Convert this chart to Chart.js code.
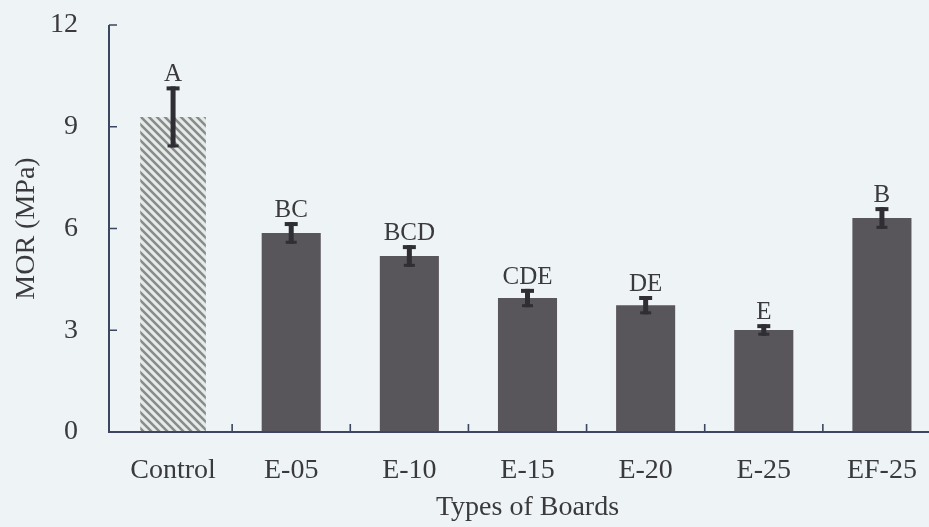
<!DOCTYPE html>
<html>
<head>
<meta charset="utf-8">
<script src="https://cdn.jsdelivr.net/npm/chart.js@4.4.1/dist/chart.umd.min.js"></script>
<style>
  html, body { margin: 0; padding: 0; background: #eef3f5; overflow: hidden; }
  #wrap { position: relative; width: 950px; height: 527px; }
</style>
</head>
<body>
<div id="wrap"><canvas id="chart"></canvas></div>
<script>
// Modulus of rupture by board type (mean and standard deviation, MPa)
const boardTypes = ['Control', 'E-05', 'E-10', 'E-15', 'E-20', 'E-25', 'EF-25'];
const morMean = [9.29, 5.87, 5.19, 3.95, 3.74, 3.01, 6.31];
const morSD = [0.90, 0.32, 0.32, 0.27, 0.27, 0.17, 0.32];
const groupLetters = ['A', 'BC', 'BCD', 'CDE', 'DE', 'E', 'B'];
const yTickValues = [0, 3, 6, 9, 12];

const SERIF = '"Liberation Serif", "Times New Roman", serif';
const TEXT = '#3a3a3c';
const AXIS = '#3d4660';
const AXIS_INSET = 5; // the value axis sits a little left of the first category

// Diagonal hatch used for the control board
function hatchPattern() {
  const n = 8;
  const p = document.createElement('canvas');
  p.width = n; p.height = n;
  const g = p.getContext('2d');
  g.fillStyle = '#e6eae8';
  g.fillRect(0, 0, n, n);
  g.strokeStyle = '#878b89';
  g.lineWidth = 2.5;
  g.beginPath();
  g.moveTo(-2, -2); g.lineTo(n + 2, n + 2);
  g.moveTo(-3, n - 3); g.lineTo(3, n + 3);
  g.moveTo(n - 3, -3); g.lineTo(n + 3, 3);
  g.stroke();
  return g.createPattern(p, 'repeat');
}

const controlValues = morMean.map((v, i) => (i === 0 ? v : null));
const treatedValues = morMean.map((v, i) => (i === 0 ? null : v));

// Axis lines with inward tick marks
const axisLines = {
  id: 'axisLines',
  afterDatasetsDraw(chart) {
    const { ctx, chartArea: a, scales: { x, y } } = chart;
    const ax = a.left - AXIS_INSET;
    ctx.save();
    ctx.strokeStyle = AXIS;
    ctx.lineWidth = 2;
    ctx.beginPath();
    ctx.moveTo(ax, a.top);
    ctx.lineTo(ax, a.bottom);
    ctx.lineTo(a.right + 20, a.bottom);
    ctx.stroke();
    ctx.lineWidth = 1.6;
    ctx.beginPath();
    yTickValues.slice(1).forEach(v => {
      const py = y.getPixelForValue(v);
      ctx.moveTo(ax, py);
      ctx.lineTo(ax + 8, py);
    });
    for (let i = 1; i < boardTypes.length; i++) {
      const px = (x.getPixelForValue(i - 1) + x.getPixelForValue(i)) / 2;
      ctx.moveTo(px, a.bottom);
      ctx.lineTo(px, a.bottom - 8);
    }
    ctx.stroke();
    ctx.restore();
  }
};

// Standard deviation bars and significance letters
const errorBars = {
  id: 'errorBars',
  afterDatasetsDraw(chart) {
    const { ctx, scales: { x, y } } = chart;
    ctx.save();
    ctx.fillStyle = '#2f2e34';
    morMean.forEach((m, i) => {
      const cx = x.getPixelForValue(i);
      const top = y.getPixelForValue(m + morSD[i]);
      const bot = y.getPixelForValue(m - morSD[i]);
      ctx.fillRect(cx - 2.5, top, 5, bot - top);
      ctx.fillRect(cx - 6.5, top, 13, 4);
      ctx.fillRect(cx - 5.5, bot - 3, 11, 3);
    });
    ctx.font = '25px ' + SERIF;
    ctx.textAlign = 'center';
    ctx.textBaseline = 'alphabetic';
    ctx.fillStyle = TEXT;
    groupLetters.forEach((t, i) => {
      const cx = x.getPixelForValue(i);
      const top = y.getPixelForValue(morMean[i] + morSD[i]);
      ctx.fillText(t, cx, top - 5);
    });
    ctx.restore();
  }
};

new Chart(document.getElementById('chart'), {
  type: 'bar',
  data: {
    labels: boardTypes,
    datasets: [
      {
        label: 'Control',
        data: controlValues,
        backgroundColor: hatchPattern(),
        barPercentage: 0.555,
        categoryPercentage: 1,
        grouped: false
      },
      {
        label: 'Treated',
        data: treatedValues,
        backgroundColor: '#58555b',
        barPercentage: 0.5,
        categoryPercentage: 1,
        grouped: false
      }
    ]
  },
  options: {
    responsive: true,
    maintainAspectRatio: false,
    animation: false,
    layout: { padding: { top: 25, right: 9, left: 0, bottom: 0 } },
    plugins: { legend: { display: false }, tooltip: { enabled: false } },
    scales: {
      x: {
        grid: { display: false, drawTicks: false },
        border: { display: false },
        ticks: {
          font: { family: SERIF, size: 28 },
          color: TEXT,
          padding: 22,
          maxRotation: 0,
          autoSkip: false
        },
        title: {
          display: true,
          text: 'Types of Boards',
          font: { family: SERIF, size: 28 },
          color: TEXT,
          padding: { top: 0, bottom: 3 }
        },
        afterFit(s) { s.height = 95; }
      },
      y: {
        min: 0,
        max: 12,
        afterBuildTicks(s) { s.ticks = yTickValues.map(v => ({ value: v })); },
        grid: { display: false, drawTicks: false },
        border: { display: false },
        ticks: {
          font: { family: SERIF, size: 28 },
          color: TEXT,
          padding: 31 + AXIS_INSET
        },
        title: {
          display: true,
          text: 'MOR (MPa)',
          font: { family: SERIF, size: 28 },
          color: TEXT,
          padding: { top: 10, bottom: 0 }
        },
        afterFit(s) {
          s.width = 109 + AXIS_INSET;
          s.paddingTop = 17;
          s.paddingBottom = 17;
        }
      }
    }
  },
  plugins: [axisLines, errorBars]
});
</script>
</body>
</html>
